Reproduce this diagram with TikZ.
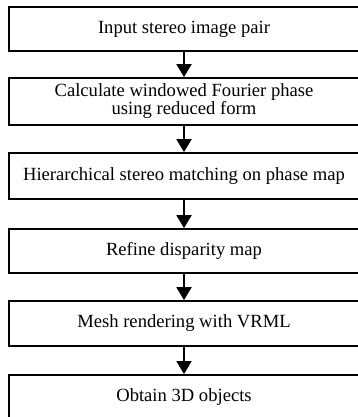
\documentclass[tikz,border=0pt]{standalone}
\usepackage{fontspec}
\setmainfont{Liberation Serif}
\usetikzlibrary{arrows.meta}
\begin{document}
\begin{tikzpicture}[x=1pt,y=-1pt,
  stage/.style={draw=black, line width=1.8pt, minimum width=350pt, inner sep=0pt,
    align=center, font=\fontsize{18.6}{15.5}\selectfont, text=black},
  flow/.style={line width=1.9pt, -{Triangle[width=15pt,length=13pt]}}]
\useasboundingbox (0,0) rectangle (357,417);
\node[stage, minimum height=44pt] (b1) at (184,29) {Input stereo image pair};
\node[stage, minimum height=47pt] (b2) at (184,101.5) {Calculate windowed Fourier phase\\using reduced form};
\node[stage, minimum height=46pt] (b3) at (184,176) {Hierarchical stereo matching on phase map};
\node[stage, minimum height=44pt] (b4) at (184,251) {Refine disparity map};
\node[stage, minimum height=45pt] (b5) at (184,323.5) {Mesh rendering with VRML};
\node[stage, minimum height=45pt] (b6) at (184,397.5) {Obtain 3D objects};
\draw[flow] (b1.south) -- (b2.north);
\draw[flow] (b2.south) -- (b3.north);
\draw[flow] (b3.south) -- (b4.north);
\draw[flow] (b4.south) -- (b5.north);
\draw[flow] (b5.south) -- (b6.north);
\end{tikzpicture}
\end{document}
